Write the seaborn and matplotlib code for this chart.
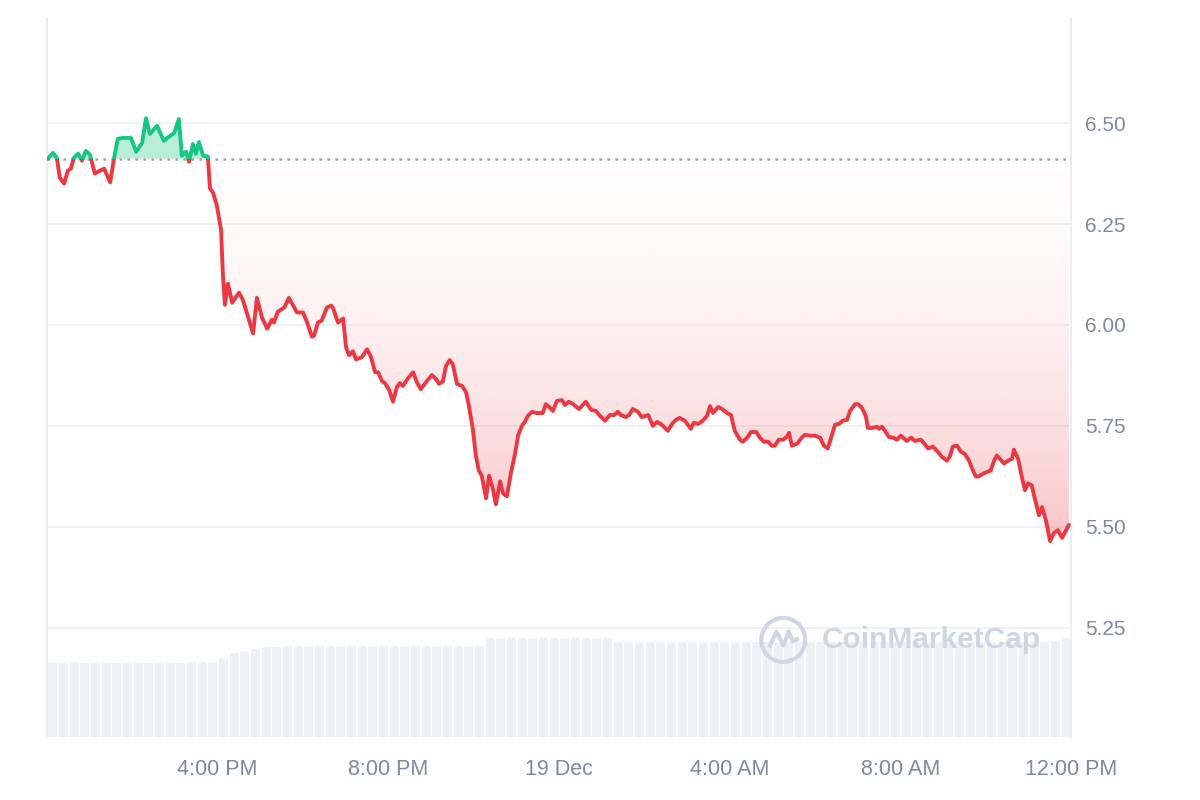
import matplotlib
matplotlib.use("Agg")
import matplotlib.pyplot as plt
import matplotlib.colors as mcolors
import seaborn as sns
import numpy as np
import pandas as pd
from matplotlib.patches import Rectangle
from matplotlib.path import Path

# hours since 12:00 PM, 18 Dec
hours = [
    0.02, 0.14, 0.23, 0.30, 0.40, 0.49, 0.56, 0.63, 0.73, 0.82, 0.91, 1.01, 1.12, 1.24, 1.34,
    1.48, 1.57, 1.66, 1.78, 1.97, 2.09, 2.23, 2.32, 2.41, 2.58, 2.74, 2.88, 2.98, 3.09, 3.16,
    3.26, 3.33, 3.42, 3.49, 3.56, 3.66, 3.77, 3.82, 3.89, 3.98, 4.08, 4.12, 4.17, 4.24, 4.34,
    4.50, 4.59, 4.71, 4.83, 4.92, 5.04, 5.16, 5.27, 5.32, 5.41, 5.56, 5.67, 5.86, 6.00, 6.09,
    6.21, 6.26, 6.35, 6.44, 6.56, 6.66, 6.70, 6.82, 6.94, 7.01, 7.08, 7.17, 7.24, 7.38, 7.50,
    7.59, 7.69, 7.76, 7.85, 7.92, 8.02, 8.11, 8.20, 8.27, 8.34, 8.46, 8.58, 8.67, 8.76, 8.88,
    9.02, 9.12, 9.19, 9.28, 9.35, 9.44, 9.51, 9.61, 9.73, 9.82, 9.89, 9.98, 10.05, 10.12, 10.19,
    10.29, 10.36, 10.45, 10.52, 10.62, 10.69, 10.78, 10.87, 10.97, 11.04, 11.13, 11.20, 11.27, 11.37, 11.48,
    11.62, 11.69, 11.79, 11.86, 11.95, 12.07, 12.14, 12.23, 12.33, 12.47, 12.63, 12.75, 12.87, 12.96, 13.08,
    13.19, 13.29, 13.38, 13.45, 13.57, 13.64, 13.73, 13.85, 13.94, 14.09, 14.20, 14.30, 14.41, 14.55, 14.65,
    14.74, 14.83, 14.95, 15.09, 15.16, 15.26, 15.37, 15.47, 15.54, 15.61, 15.73, 15.82, 15.94, 16.03, 16.12,
    16.24, 16.31, 16.41, 16.50, 16.62, 16.71, 16.80, 16.90, 16.99, 17.06, 17.15, 17.25, 17.34, 17.39, 17.46,
    17.58, 17.69, 17.76, 17.88, 18.00, 18.12, 18.21, 18.30, 18.37, 18.47, 18.56, 18.65, 18.75, 18.82, 18.94,
    19.01, 19.10, 19.19, 19.24, 19.33, 19.45, 19.50, 19.57, 19.64, 19.73, 19.83, 19.92, 20.01, 20.15, 20.25,
    20.34, 20.48, 20.58, 20.65, 20.76, 20.88, 20.97, 21.09, 21.16, 21.23, 21.33, 21.42, 21.51, 21.61, 21.70,
    21.77, 21.84, 21.94, 22.05, 22.12, 22.19, 22.26, 22.33, 22.43, 22.52, 22.62, 22.66, 22.76, 22.83, 22.92,
    22.99, 23.08, 23.15, 23.25, 23.32, 23.41, 23.51, 23.60, 23.69, 23.79, 23.86, 23.95,
]
price = [
    6.412, 6.426, 6.414, 6.365, 6.350, 6.382, 6.387, 6.414, 6.424, 6.407, 6.431, 6.421, 6.375, 6.382, 6.387,
    6.353, 6.412, 6.461, 6.463, 6.463, 6.429, 6.451, 6.512, 6.473, 6.493, 6.456, 6.468, 6.475, 6.510, 6.419,
    6.429, 6.404, 6.448, 6.424, 6.453, 6.419, 6.417, 6.338, 6.328, 6.296, 6.235, 6.129, 6.050, 6.102, 6.055,
    6.080, 6.062, 6.021, 5.979, 6.067, 6.018, 5.991, 6.013, 6.006, 6.033, 6.043, 6.067, 6.031, 6.031, 6.008,
    5.971, 5.974, 6.006, 6.011, 6.043, 6.048, 6.043, 6.006, 6.016, 5.944, 5.925, 5.935, 5.915, 5.920, 5.940,
    5.922, 5.883, 5.883, 5.861, 5.856, 5.839, 5.810, 5.846, 5.856, 5.849, 5.868, 5.883, 5.858, 5.841, 5.858,
    5.876, 5.866, 5.854, 5.861, 5.898, 5.913, 5.903, 5.854, 5.849, 5.834, 5.799, 5.743, 5.677, 5.640, 5.627,
    5.571, 5.627, 5.595, 5.556, 5.613, 5.583, 5.576, 5.632, 5.681, 5.726, 5.750, 5.760, 5.775, 5.785, 5.782,
    5.782, 5.804, 5.795, 5.787, 5.812, 5.814, 5.802, 5.810, 5.804, 5.792, 5.810, 5.790, 5.787, 5.775, 5.763,
    5.777, 5.777, 5.785, 5.777, 5.772, 5.777, 5.792, 5.785, 5.772, 5.777, 5.750, 5.760, 5.753, 5.738, 5.755,
    5.765, 5.770, 5.763, 5.743, 5.758, 5.755, 5.763, 5.775, 5.799, 5.782, 5.797, 5.792, 5.782, 5.777, 5.738,
    5.716, 5.711, 5.721, 5.735, 5.735, 5.721, 5.711, 5.711, 5.701, 5.701, 5.716, 5.716, 5.723, 5.733, 5.701,
    5.706, 5.721, 5.728, 5.726, 5.726, 5.721, 5.701, 5.694, 5.718, 5.753, 5.755, 5.763, 5.765, 5.787, 5.804,
    5.804, 5.795, 5.775, 5.745, 5.745, 5.748, 5.743, 5.748, 5.738, 5.723, 5.721, 5.716, 5.726, 5.713, 5.721,
    5.713, 5.716, 5.704, 5.694, 5.699, 5.686, 5.674, 5.664, 5.674, 5.699, 5.701, 5.686, 5.681, 5.664, 5.640,
    5.625, 5.625, 5.632, 5.637, 5.640, 5.662, 5.677, 5.669, 5.657, 5.664, 5.669, 5.691, 5.669, 5.632, 5.591,
    5.608, 5.603, 5.571, 5.529, 5.549, 5.517, 5.465, 5.485, 5.492, 5.473, 5.487, 5.505,
]
open_price = 6.412

# 24h volume bars, every 15 minutes (millions USD)
vol_hours = [
    0.125, 0.375, 0.625, 0.875, 1.125, 1.375, 1.625, 1.875, 2.125, 2.375, 2.625, 2.875,
    3.125, 3.375, 3.625, 3.875, 4.125, 4.375, 4.625, 4.875, 5.125, 5.375, 5.625, 5.875,
    6.125, 6.375, 6.625, 6.875, 7.125, 7.375, 7.625, 7.875, 8.125, 8.375, 8.625, 8.875,
    9.125, 9.375, 9.625, 9.875, 10.125, 10.375, 10.625, 10.875, 11.125, 11.375, 11.625, 11.875,
    12.125, 12.375, 12.625, 12.875, 13.125, 13.375, 13.625, 13.875, 14.125, 14.375, 14.625, 14.875,
    15.125, 15.375, 15.625, 15.875, 16.125, 16.375, 16.625, 16.875, 17.125, 17.375, 17.625, 17.875,
    18.125, 18.375, 18.625, 18.875, 19.125, 19.375, 19.625, 19.875, 20.125, 20.375, 20.625, 20.875,
    21.125, 21.375, 21.625, 21.875, 22.125, 22.375, 22.625, 22.875, 23.125, 23.375, 23.625, 23.875,
]
volume = [
    114, 112, 114, 112, 112, 112, 112, 112, 112, 112, 112, 112,
    112, 114, 114, 114, 120, 127, 131, 134, 136, 137, 138, 138,
    138, 138, 138, 138, 138, 138, 138, 138, 138, 138, 138, 138,
    138, 138, 138, 138, 138, 150, 150, 150, 150, 150, 150, 150,
    150, 150, 150, 150, 150, 144, 144, 144, 144, 144, 144, 144,
    144, 144, 144, 144, 144, 144, 144, 144, 144, 144, 144, 144,
    144, 144, 144, 144, 144, 144, 144, 144, 144, 144, 144, 144,
    144, 144, 144, 144, 144, 144, 144, 144, 144, 144, 145, 150,
]

x_ticks = [4, 8, 12, 16, 20, 24]
x_labels = ["4:00 PM", "8:00 PM", "19 Dec", "4:00 AM", "8:00 AM", "12:00 PM"]
y_ticks = [5.25, 5.50, 5.75, 6.00, 6.25, 6.50]
y_labels = ["5.25", "5.50", "5.75", "6.00", "6.25", "6.50"]

GREEN = "#16c784"
RED = "#ea3943"
GRID = "#eff2f5"
TEXT = "#808a9d"
BAR = "#edf0f4"
MARK = "#cfd6e3"

sns.set_theme(style="white")
plt.rcParams['font.family'] = ['Liberation Sans', 'DejaVu Sans']

fig = plt.figure(figsize=(12, 8), dpi=100)
pos = [47 / 1200, 63 / 800, 1024 / 1200, 719 / 800]
ax_vol = fig.add_axes(pos)
ax = fig.add_axes(pos)
ax.set_facecolor("none")

# volume in the background
vol_df = pd.DataFrame({"hour": vol_hours, "volume": volume})
sns.barplot(data=vol_df, x="hour", y="volume", native_scale=True, color=BAR,
            saturation=1, width=0.95, errorbar=None, ax=ax_vol)
ax_vol.set_xlim(0, 24)
ax_vol.set_ylim(0, 1078)
ax_vol.axis("off")

# price line, green above the open, red below
df = pd.DataFrame({"hour": hours, "price": price})
p = np.array(price)
h = np.array(hours)

ax.fill_between(h, p, open_price, where=p >= open_price, interpolate=True,
                color=GREEN, alpha=0.3, lw=0, zorder=2)
red_poly = ax.fill_between(h, p, open_price, where=p <= open_price, interpolate=True,
                           facecolor="none", lw=0)
clip = Path.make_compound_path(*red_poly.get_paths())
grad = np.zeros((256, 1, 4))
grad[..., :3] = mcolors.to_rgb(RED)
grad[:, 0, 3] = 0.015 + 0.29 * np.linspace(1, 0, 256) ** 1.8
im = ax.imshow(grad, extent=[0, 24, 5.45, open_price], origin="lower",
               aspect="auto", zorder=2, interpolation="bilinear")
im.set_clip_path(clip, transform=ax.transData)

ax.axhline(open_price, color="#9aa2ae", lw=1.8, ls=(0, (1, 2.2)), zorder=3)

sns.lineplot(data=df, x="hour", y="price", color=RED, linewidth=2.8, ax=ax, zorder=4)
red_line = ax.lines[-1]
red_line.set_clip_path(Rectangle((0, 4.0), 24, open_price - 4.0, transform=ax.transData))
sns.lineplot(data=df, x="hour", y="price", color=GREEN, linewidth=2.8, ax=ax, zorder=4)
green_line = ax.lines[-1]
green_line.set_clip_path(Rectangle((0, open_price), 24, 3.0, transform=ax.transData))
for ln in (red_line, green_line):
    ln.set_solid_joinstyle("round")

# watermark
ax.scatter([0.719], [0.135], s=1000, facecolors="none", edgecolors=MARK,
           linewidths=3, transform=ax.transAxes, zorder=1)
wave = Path([(-0.7, -0.35), (-0.35, 0.45), (0.0, -0.25), (0.25, 0.45), (0.45, -0.05), (0.75, 0.1)],
            [Path.MOVETO] + [Path.LINETO] * 5)
ax.plot([0.719], [0.135], marker=wave, ms=22, mfc="none", mec=MARK, mew=3,
        transform=ax.transAxes, zorder=1)
ax.text(0.757, 0.135, "CoinMarketCap", transform=ax.transAxes, fontsize=21.5,
        fontweight="bold", color=MARK, va="center", ha="left", zorder=1)

ax.set_xlim(0, 24)
ax.set_ylim(4.98, 6.76)
ax.set_xticks(x_ticks)
ax.set_xticklabels(x_labels)
ax.set_yticks(y_ticks)
ax.set_yticklabels(y_labels)
ax.yaxis.tick_right()
ax.tick_params(axis="x", length=0, pad=16, labelsize=15.5, labelcolor=TEXT)
ax.tick_params(axis="y", length=0, pad=10, labelsize=15, labelcolor=TEXT)
ax.set_xlabel("")
ax.set_ylabel("")
ax.grid(axis="y", color=GRID, lw=1.4)
ax.grid(axis="x", visible=False)
ax.set_axisbelow(True)
for side in ("top", "bottom"):
    ax.spines[side].set_visible(False)
for side in ("left", "right"):
    ax.spines[side].set_color("#eaedf1")
    ax.spines[side].set_linewidth(1.5)

fig.savefig("out.png", dpi=100, facecolor="white")
